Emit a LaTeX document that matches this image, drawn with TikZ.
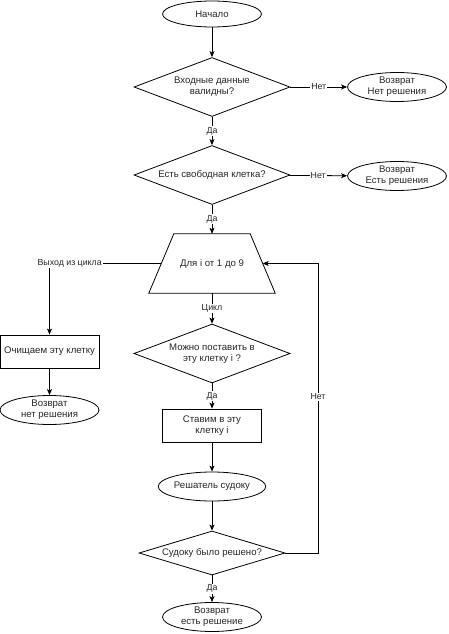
\documentclass[tikz,border=0pt]{standalone}
\usepackage{fontspec}
\setmainfont{Liberation Sans}
\usepackage{tikz}
\usetikzlibrary{shapes.geometric, arrows.meta}

\begin{document}
\begin{tikzpicture}[x=1pt, y=-1pt,
  every node/.style={font=\fontsize{9.6}{11}\selectfont, align=center, text=black!85},
  term/.style={draw, ellipse, minimum width=99pt, minimum height=29pt, inner sep=0pt, line width=0.8pt},
  proc/.style={draw, rectangle, minimum width=99pt, minimum height=33pt, inner sep=1pt, line width=0.8pt},
  check/.style={draw, diamond, aspect=2.64, minimum width=156pt, minimum height=59pt, inner sep=1pt, line width=0.8pt},
  loopbox/.style={rectangle, minimum width=126pt, minimum height=59pt, inner sep=1pt},
  flow/.style={line width=0.8pt, -{Stealth[length=6pt, width=5pt, inset=1.5pt]}},
  tag/.style={font=\fontsize{8.8}{10}\selectfont, fill=white, inner sep=1pt}]
\useasboundingbox (0,0) rectangle (448,634);

% start and the first checks
\node[term, minimum height=26pt] (start) at (212,14) {Начало};
\node[check] (valid) at (212,87) {Входные данные\\валидны?};
\node[term] (nosol) at (397,87) {Возврат\\Нет решения};
\node[check] (free) at (212,175) {Есть свободная клетка?};
\node[term] (solved) at (397,176) {Возврат\\Есть решения};

% the loop over the digits
\node[loopbox] (digit) at (212,263.5) {Для i от 1 до 9};
\draw[line width=0.8pt] ([xshift=25pt]digit.north west) -- ([xshift=-25pt]digit.north east)
  -- (digit.south east) -- (digit.south west) -- cycle;
\coordinate (digitl) at ([xshift=12.5pt]digit.west);
\coordinate (digitr) at ([xshift=-12.5pt]digit.east);
\node[check] (canput) at (212,353.5) {Можно поставить в\\эту клетку i ?};
\node[proc] (put) at (212,425.5) {Ставим в эту\\клетку i};
\node[term] (solver) at (212,486.5) {Решатель судоку};
\node[check, aspect=3.3, minimum width=146pt, minimum height=44pt] (done) at (212,553) {Судоку было решено?};
\node[term] (yes) at (212,617) {Возврат\\есть решение};

% leaving the loop
\node[proc] (clear) at (49.5,351.5) {Очищаем эту клетку};
\node[term] (fail) at (49.5,410) {Возврат\\нет решения};

\coordinate (back) at (318,553);

\draw[flow] (start) -- (valid);
\draw[flow] (valid) -- node[tag]{Нет} (nosol);
\draw[flow] (valid) -- node[tag]{Да} (free);
\draw[flow] (free) -- node[tag]{Нет} (solved);
\draw[flow] (free) -- node[tag]{Да} (digit);
\draw[flow] (digit) -- node[tag]{Цикл} (canput);
\draw[flow] (canput) -- node[tag]{Да} (put);
\draw[flow] (put) -- (solver);
\draw[flow] (solver) -- (done);
\draw[flow] (done) -- node[tag]{Да} (yes);
\draw[flow] (digitl) -| node[tag, pos=0.41]{Выход из цикла} (clear.north);
\draw[flow] (clear) -- (fail);
\draw[flow] (done.east) -- (back) |- node[tag, pos=0.27]{Нет} (digitr);

\end{tikzpicture}
\end{document}
